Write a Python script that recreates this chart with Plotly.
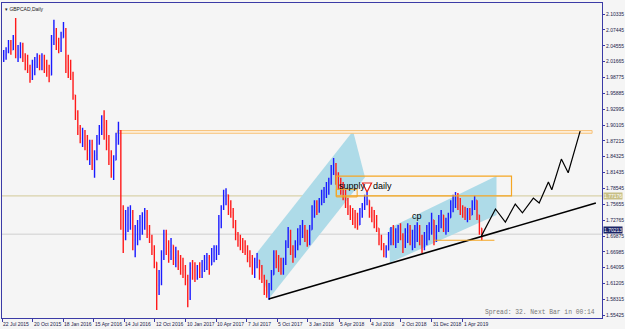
import plotly.graph_objects as go
import pandas as pd

# ---------------- data (weekly OHLC) ----------------
first_week = "2015-07-20"

opens = [2.029, 2.025, 2.029, 2.034, 2.047, 2.038, 2.060, 2.029, 2.038, 2.043,
         2.023, 2.011, 2.001, 1.987, 2.011, 2.016, 2.023, 2.020, 2.025, 2.005,
         1.998, 1.992, 2.056, 2.071, 2.052, 2.041, 2.060, 2.074, 2.016, 2.005,
         1.992, 1.956, 1.925, 1.896, 1.877, 1.888, 1.865, 1.855, 1.865, 1.837,
         1.846, 1.874, 1.896, 1.901, 1.883, 1.865, 1.837, 1.819, 1.837, 1.874,
         1.883, 1.737, 1.710, 1.719, 1.737, 1.742, 1.691, 1.701, 1.710, 1.724,
         1.732, 1.737, 1.710, 1.695, 1.673, 1.651, 1.609, 1.619, 1.659, 1.691,
         1.677, 1.670, 1.682, 1.659, 1.664, 1.651, 1.640, 1.637, 1.619, 1.586,
         1.640, 1.637, 1.628, 1.637, 1.633, 1.646, 1.651, 1.659, 1.646, 1.664,
         1.673, 1.673, 1.724, 1.750, 1.768, 1.774, 1.755, 1.742, 1.724, 1.701,
         1.691, 1.688, 1.677, 1.673, 1.659, 1.651, 1.637, 1.651, 1.655, 1.628,
         1.622, 1.600, 1.597, 1.609, 1.628, 1.659, 1.651, 1.646, 1.640, 1.651,
         1.682, 1.706, 1.673, 1.664, 1.682, 1.701, 1.706, 1.713, 1.701, 1.691,
         1.710, 1.746, 1.752, 1.746, 1.759, 1.774, 1.779, 1.783, 1.797, 1.819,
         1.828, 1.805, 1.792, 1.786, 1.774, 1.759, 1.746, 1.737, 1.732, 1.724,
         1.719, 1.742, 1.750, 1.764, 1.764, 1.742, 1.737, 1.724, 1.713, 1.691,
         1.682, 1.670, 1.673, 1.695, 1.701, 1.691, 1.706, 1.710, 1.701, 1.682,
         1.706, 1.710, 1.691, 1.695, 1.706, 1.713, 1.691, 1.682, 1.695, 1.710,
         1.713, 1.728, 1.695, 1.710, 1.728, 1.737, 1.719, 1.724, 1.732, 1.755,
         1.764, 1.768, 1.755, 1.746, 1.741, 1.737, 1.742, 1.737, 1.755, 1.764,
         1.737, 1.713]

highs = [2.038, 2.038, 2.043, 2.056, 2.056, 2.065, 2.096, 2.047, 2.052, 2.051,
         2.032, 2.029, 2.011, 2.020, 2.025, 2.032, 2.029, 2.032, 2.029, 2.020,
         2.011, 2.065, 2.093, 2.078, 2.060, 2.071, 2.089, 2.078, 2.029, 2.020,
         1.998, 1.956, 1.928, 1.901, 1.896, 1.892, 1.883, 1.874, 1.874, 1.855,
         1.883, 1.901, 1.919, 1.928, 1.910, 1.883, 1.855, 1.846, 1.887, 1.907,
         1.892, 1.755, 1.746, 1.752, 1.755, 1.746, 1.719, 1.728, 1.737, 1.742,
         1.750, 1.746, 1.719, 1.701, 1.682, 1.651, 1.637, 1.673, 1.710, 1.710,
         1.691, 1.695, 1.682, 1.679, 1.673, 1.664, 1.659, 1.646, 1.628, 1.651,
         1.655, 1.651, 1.646, 1.651, 1.655, 1.664, 1.668, 1.664, 1.677, 1.682,
         1.682, 1.737, 1.755, 1.783, 1.786, 1.774, 1.764, 1.750, 1.728, 1.706,
         1.701, 1.695, 1.691, 1.682, 1.673, 1.664, 1.659, 1.668, 1.655, 1.646,
         1.628, 1.619, 1.613, 1.637, 1.673, 1.673, 1.664, 1.659, 1.659, 1.691,
         1.715, 1.710, 1.682, 1.691, 1.713, 1.719, 1.728, 1.719, 1.710, 1.719,
         1.755, 1.764, 1.764, 1.768, 1.783, 1.788, 1.797, 1.805, 1.828, 1.841,
         1.832, 1.815, 1.805, 1.797, 1.783, 1.768, 1.755, 1.750, 1.746, 1.741,
         1.750, 1.759, 1.774, 1.779, 1.764, 1.752, 1.746, 1.737, 1.713, 1.701,
         1.686, 1.682, 1.706, 1.715, 1.719, 1.713, 1.719, 1.722, 1.704, 1.713,
         1.722, 1.719, 1.710, 1.719, 1.724, 1.719, 1.701, 1.706, 1.719, 1.724,
         1.741, 1.728, 1.719, 1.737, 1.746, 1.737, 1.732, 1.741, 1.764, 1.774,
         1.779, 1.777, 1.768, 1.755, 1.752, 1.750, 1.750, 1.764, 1.772, 1.764,
         1.737, 1.713]

lows = [2.014, 2.016, 2.020, 2.032, 2.029, 2.038, 2.023, 2.016, 2.023, 2.016,
        2.001, 1.996, 1.978, 1.983, 1.992, 2.005, 2.001, 2.001, 1.996, 1.989,
        1.979, 1.992, 2.047, 2.038, 2.032, 2.034, 2.060, 1.996, 1.987, 1.983,
        1.947, 1.910, 1.883, 1.868, 1.861, 1.855, 1.837, 1.828, 1.819, 1.805,
        1.837, 1.865, 1.883, 1.874, 1.855, 1.828, 1.805, 1.801, 1.837, 1.865,
        1.710, 1.668, 1.691, 1.706, 1.710, 1.673, 1.660, 1.682, 1.691, 1.701,
        1.710, 1.695, 1.686, 1.664, 1.640, 1.564, 1.591, 1.609, 1.655, 1.664,
        1.650, 1.655, 1.646, 1.642, 1.637, 1.628, 1.622, 1.609, 1.569, 1.582,
        1.619, 1.615, 1.619, 1.622, 1.622, 1.633, 1.637, 1.628, 1.646, 1.651,
        1.655, 1.664, 1.713, 1.746, 1.755, 1.737, 1.732, 1.713, 1.691, 1.679,
        1.673, 1.668, 1.664, 1.651, 1.642, 1.628, 1.622, 1.640, 1.619, 1.613,
        1.591, 1.586, 1.582, 1.600, 1.628, 1.640, 1.633, 1.628, 1.628, 1.646,
        1.677, 1.664, 1.650, 1.659, 1.673, 1.682, 1.695, 1.688, 1.679, 1.682,
        1.710, 1.732, 1.737, 1.741, 1.755, 1.759, 1.768, 1.774, 1.792, 1.810,
        1.792, 1.783, 1.774, 1.764, 1.750, 1.737, 1.728, 1.719, 1.713, 1.710,
        1.719, 1.732, 1.746, 1.755, 1.732, 1.724, 1.713, 1.706, 1.682, 1.673,
        1.660, 1.659, 1.673, 1.682, 1.682, 1.677, 1.686, 1.691, 1.668, 1.677,
        1.686, 1.682, 1.673, 1.677, 1.688, 1.682, 1.668, 1.673, 1.682, 1.691,
        1.701, 1.682, 1.688, 1.706, 1.713, 1.706, 1.701, 1.706, 1.732, 1.742,
        1.750, 1.746, 1.737, 1.732, 1.728, 1.724, 1.728, 1.737, 1.746, 1.728,
        1.701, 1.691]

closes = [2.025, 2.029, 2.034, 2.047, 2.038, 2.060, 2.029, 2.038, 2.043, 2.023,
          2.011, 2.001, 1.987, 2.011, 2.016, 2.023, 2.020, 2.025, 2.005, 1.998,
          1.992, 2.056, 2.071, 2.052, 2.041, 2.060, 2.074, 2.016, 2.005, 1.992,
          1.956, 1.925, 1.896, 1.877, 1.888, 1.865, 1.855, 1.865, 1.837, 1.846,
          1.874, 1.896, 1.901, 1.883, 1.865, 1.837, 1.819, 1.837, 1.874, 1.883,
          1.737, 1.710, 1.719, 1.737, 1.742, 1.691, 1.701, 1.710, 1.724, 1.732,
          1.737, 1.710, 1.695, 1.673, 1.651, 1.609, 1.619, 1.659, 1.691, 1.677,
          1.670, 1.682, 1.659, 1.664, 1.651, 1.640, 1.637, 1.619, 1.586, 1.640,
          1.637, 1.628, 1.637, 1.633, 1.646, 1.651, 1.659, 1.646, 1.664, 1.673,
          1.673, 1.724, 1.750, 1.768, 1.774, 1.755, 1.742, 1.724, 1.701, 1.691,
          1.688, 1.677, 1.673, 1.659, 1.651, 1.637, 1.651, 1.655, 1.628, 1.622,
          1.600, 1.597, 1.609, 1.628, 1.659, 1.651, 1.646, 1.640, 1.651, 1.682,
          1.706, 1.673, 1.664, 1.682, 1.701, 1.706, 1.713, 1.701, 1.691, 1.710,
          1.746, 1.752, 1.746, 1.759, 1.774, 1.779, 1.783, 1.797, 1.819, 1.828,
          1.805, 1.792, 1.786, 1.774, 1.759, 1.746, 1.737, 1.732, 1.724, 1.719,
          1.742, 1.750, 1.764, 1.764, 1.742, 1.737, 1.724, 1.713, 1.691, 1.682,
          1.670, 1.673, 1.695, 1.701, 1.691, 1.706, 1.710, 1.701, 1.682, 1.706,
          1.710, 1.691, 1.695, 1.706, 1.713, 1.691, 1.682, 1.695, 1.710, 1.713,
          1.728, 1.695, 1.710, 1.728, 1.737, 1.719, 1.724, 1.732, 1.755, 1.764,
          1.768, 1.755, 1.746, 1.741, 1.737, 1.742, 1.737, 1.755, 1.764, 1.737,
          1.713, 1.702]

# axis labels
x_label_dates = ["2015-07-22", "2015-10-20", "2016-01-18", "2016-04-15", "2016-07-14",
                 "2016-10-12", "2017-01-10", "2017-04-10", "2017-07-07", "2017-10-05",
                 "2018-01-03", "2018-04-05", "2018-07-04", "2018-10-02", "2018-12-31",
                 "2019-04-01"]
x_label_text = ["22 Jul 2015", "20 Oct 2015", "18 Jan 2016", "15 Apr 2016", "14 Jul 2016",
                "12 Oct 2016", "10 Jan 2017", "10 Apr 2017", "7 Jul 2017", "5 Oct 2017",
                "3 Jan 2018", "5 Apr 2018", "4 Jul 2018", "2 Oct 2018", "31 Dec 2018",
                "1 Apr 2019"]
y_tick_text = ["2.10335", "2.07445", "2.04555", "2.01665", "1.98775", "1.95885", "1.92995",
               "1.90105", "1.87215", "1.84325", "1.81435", "1.78545", "1.75655", "1.72765",
               "1.69875", "1.66985", "1.64095", "1.61205", "1.58315", "1.55425"]
y_tick_vals = [float(t) for t in y_tick_text]

# drawn objects (time, price anchors)
level_price = 1.77176
bid_price = 1.70213
zone_dates = ["2016-06-24", "2020-04-14"]
zone_prices = [1.886, 1.891]
supply_dates = ["2018-03-27", "2019-08-22"]
supply_prices = [1.772, 1.808]
small_box_dates = ["2018-03-27", "2018-05-27"]
small_box_prices = [1.770, 1.784]
support_dates = ["2019-01-07", "2019-07-03"]
support_price = 1.691
channel1_dates = ["2017-08-06", "2018-05-15", "2018-06-19", "2017-09-10"]
channel1_prices = [1.668, 1.890, 1.806, 1.584]
channel2_dates = ["2018-08-28", "2019-07-09", "2019-07-09", "2018-08-31"]
channel2_prices = [1.713, 1.808, 1.737, 1.650]
trend_dates = ["2017-09-10", "2020-04-25"]
trend_prices = [1.584, 1.759]
zigzag_dates = ["2019-05-26", "2019-07-06", "2019-08-04", "2019-09-02", "2019-09-23",
                "2019-10-25", "2019-11-11", "2019-12-08", "2019-12-18", "2020-01-15",
                "2020-02-04", "2020-03-10"]
zigzag_prices = [1.699, 1.748, 1.724, 1.757, 1.741, 1.768, 1.759, 1.797, 1.783, 1.839,
                 1.814, 1.890]
arrow_date = "2018-06-25"
arrow_price = 1.779

dates = pd.date_range(first_week, periods=len(closes), freq="7D")

AXIS = "#3b3ba6"
LBL = "#22224a"


def poly_path(ds, ps):
    pts = [f"{d},{p}" for d, p in zip(ds, ps)]
    return "M" + " L".join(pts) + " Z"


fig = go.Figure()

fig.add_trace(go.Ohlc(x=dates, open=opens, high=highs, low=lows, close=closes,
                      increasing=dict(line=dict(color="#1a1aff", width=1.4)),
                      decreasing=dict(line=dict(color="#ff1a1a", width=1.4)),
                      tickwidth=0.3))

fig.add_trace(go.Scatter(x=trend_dates, y=trend_prices, mode="lines",
                         line=dict(color="black", width=1.6)))
fig.add_trace(go.Scatter(x=zigzag_dates, y=zigzag_prices, mode="lines",
                         line=dict(color="black", width=1.2)))
fig.add_trace(go.Scatter(x=support_dates, y=[support_price, support_price], mode="lines",
                         line=dict(color="#f5a623", width=1.2)))
fig.add_trace(go.Scatter(x=[arrow_date], y=[arrow_price], mode="markers",
                         marker=dict(symbol="arrow-down", size=9, color="white",
                                     line=dict(color="#e8201a", width=1.2))))

shapes = [
    dict(type="path", path=poly_path(channel1_dates, channel1_prices),
         fillcolor="#aedbe8", line=dict(width=0), layer="below"),
    dict(type="path", path=poly_path(channel2_dates, channel2_prices),
         fillcolor="#aedbe8", line=dict(width=0), layer="below"),
    dict(type="line", xref="paper", x0=0, x1=1, y0=level_price, y1=level_price,
         line=dict(color="#d9d2aa", width=1.2), layer="below"),
    dict(type="line", xref="paper", x0=0, x1=1, y0=bid_price, y1=bid_price,
         line=dict(color="#cfcfcf", width=1), layer="below"),
    dict(type="rect", x0=zone_dates[0], x1=zone_dates[1], y0=zone_prices[0], y1=zone_prices[1],
         line=dict(color="#f7c27a", width=1), fillcolor="#fdf0dc", layer="below"),
    dict(type="rect", x0=supply_dates[0], x1=supply_dates[1], y0=supply_prices[0], y1=supply_prices[1],
         line=dict(color="#f5a623", width=1.2), fillcolor="rgba(0,0,0,0)", layer="above"),
    dict(type="rect", x0=small_box_dates[0], x1=small_box_dates[1], y0=small_box_prices[0],
         y1=small_box_prices[1], line=dict(color="#f5a623", width=1), fillcolor="rgba(0,0,0,0)",
         layer="above"),
]

annotations = []
for d, t in zip(x_label_dates, x_label_text):
    annotations.append(dict(x=d, y=0, xref="x", yref="paper", text=t, showarrow=False,
                            xanchor="left", yanchor="top", yshift=-1, xshift=-1,
                            font=dict(size=5, color=LBL, family="Liberation Sans")))
annotations += [
    dict(x=1, y=level_price, xref="paper", yref="y", text="1.77176", showarrow=False,
         xanchor="left", yanchor="middle", xshift=1, bgcolor="#c8bf86",
         font=dict(size=5, color="white", family="Liberation Sans"), borderpad=0),
    dict(x=1, y=bid_price, xref="paper", yref="y", text="1.70213", showarrow=False,
         xanchor="left", yanchor="middle", xshift=1, yshift=4, bgcolor="#1b2466",
         font=dict(size=5, color="white", family="Liberation Sans"), borderpad=0),
    dict(x=0, y=1, xref="paper", yref="paper", text="▾ GBPCAD,Daily", showarrow=False,
         xanchor="left", yanchor="top", xshift=1, yshift=-1,
         font=dict(size=5, color="#222", family="Liberation Sans")),
    dict(x=1, y=0, xref="paper", yref="paper", text="Spread: 32. Next Bar in 00:14",
         showarrow=False, xanchor="right", yanchor="bottom", xshift=-5, yshift=0,
         font=dict(size=6.3, color="#777", family="Liberation Mono")),
    dict(x="2018-03-30", y=1.790, text="supply", showarrow=False, xanchor="left",
         yanchor="middle", font=dict(size=9, color="black", family="Liberation Sans")),
    dict(x="2018-07-07", y=1.790, text="daily", showarrow=False, xanchor="left",
         yanchor="middle", font=dict(size=9, color="black", family="Liberation Sans")),
    dict(x="2018-10-28", y=1.735, text="cp", showarrow=False, xanchor="left",
         yanchor="middle", font=dict(size=9, color="black", family="Liberation Sans")),
]

fig.update_layout(
    width=625, height=329,
    margin=dict(l=1, r=21, t=3, b=11),
    paper_bgcolor="#f5f5f5", plot_bgcolor="#f5f5f5",
    showlegend=False,
    shapes=shapes, annotations=annotations,
    xaxis=dict(type="date", range=["2015-07-22", "2020-05-13"], showgrid=False,
               zeroline=False, rangeslider=dict(visible=False),
               showline=True, linecolor=AXIS, linewidth=1, mirror=True,
               tickvals=x_label_dates, showticklabels=False, ticks="outside",
               ticklen=3, tickcolor=AXIS, tickwidth=1),
    yaxis=dict(side="right", range=[1.5493, 2.1235], showgrid=False, zeroline=False,
               showline=True, linecolor=AXIS, linewidth=1, mirror=True,
               tickvals=y_tick_vals, ticktext=y_tick_text, ticks="outside",
               ticklen=2, tickcolor=AXIS,
               tickfont=dict(size=5, color=LBL, family="Liberation Sans")),
)

fig.write_html("out.html")
